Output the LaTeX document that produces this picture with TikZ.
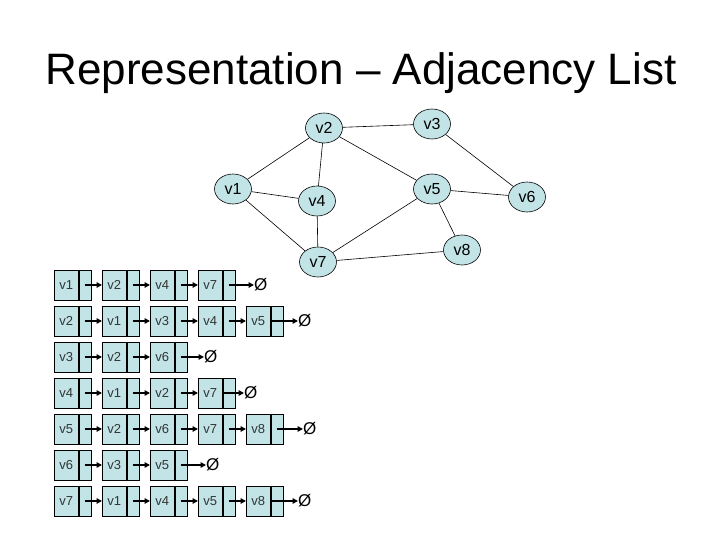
\documentclass[tikz,border=0pt]{standalone}
\usepackage{fontspec}
\setmainfont{Liberation Sans}
\usetikzlibrary{shapes.geometric,arrows.meta}
\definecolor{cellfill}{RGB}{194,228,230}
\tikzset{
  vert/.style={ellipse,draw=black,line width=0.6pt,fill=cellfill,minimum width=37pt,minimum height=30pt,inner sep=0pt,font=\fontsize{16}{16}\selectfont},
  edge/.style={draw=black,line width=0.6pt},
  lpart/.style={rectangle,draw=black,line width=0.6pt,fill=cellfill,minimum width=24pt,minimum height=30pt,inner sep=0pt,anchor=west,font=\fontsize{13}{13}\selectfont,text=black!80},
  rpart/.style={rectangle,draw=black,line width=0.6pt,fill=cellfill,minimum width=12pt,minimum height=30pt,inner sep=0pt,anchor=west},
  link/.style={draw=black,line width=1.5pt,-{Triangle[length=5.5pt,width=5.5pt]}},
  nullsym/.style={inner sep=0pt,anchor=west,font=\fontsize{17}{17}\selectfont}
}
\newcommand{\cellpair}[4]{% name, x, y, label
  \node[lpart] (#1l) at (#2,#3) {#4};
  \node[rpart] (#1r) at (#1l.east) {};
}
\begin{document}
\begin{tikzpicture}[x=1pt,y=-1pt]
\useasboundingbox (0,0) rectangle (720,540);
\node[anchor=base,font=\fontsize{44}{44}\selectfont] (title) at (361,85) {Representation – Adjacency List};

% graph
\node[vert] (v1) at (233,189) {v1};
\node[vert] (v2) at (324,128) {v2};
\node[vert] (v3) at (432,124) {v3};
\node[vert] (v4) at (317,201) {v4};
\node[vert] (v5) at (432,189) {v5};
\node[vert] (v6) at (527,197) {v6};
\node[vert] (v7) at (318,262) {v7};
\node[vert] (v8) at (462,250) {v8};
\draw[edge] (v1) -- (v2);
\draw[edge] (v1) -- (v4);
\draw[edge] (v1) -- (v7);
\draw[edge] (v2) -- (v3);
\draw[edge] (v2) -- (v4);
\draw[edge] (v2) -- (v5);
\draw[edge] (v3) -- (v6);
\draw[edge] (v4) -- (v7);
\draw[edge] (v5) -- (v6);
\draw[edge] (v5) -- (v7);
\draw[edge] (v5) -- (v8);
\draw[edge] (v7) -- (v8);

% adjacency lists
\def\rowA{285}\def\rowB{321}\def\rowC{357}\def\rowD{393}\def\rowE{429}\def\rowF{465}\def\rowG{501}
% row 1
\cellpair{a1}{54}{\rowA}{v1}\cellpair{a2}{102}{\rowA}{v2}\cellpair{a3}{150}{\rowA}{v4}\cellpair{a4}{198}{\rowA}{v7}
\node[nullsym] (na) at (254,\rowA) {Ø};
\draw[link] (a1r.center) -- (a2l.west);
\draw[link] (a2r.center) -- (a3l.west);
\draw[link] (a3r.center) -- (a4l.west);
\draw[link] (a4r.center) -- (na.west |- a4r.center);
% row 2
\cellpair{b1}{54}{\rowB}{v2}\cellpair{b2}{102}{\rowB}{v1}\cellpair{b3}{150}{\rowB}{v3}\cellpair{b4}{198}{\rowB}{v4}\cellpair{b5}{246}{\rowB}{v5}
\node[nullsym] (nb) at (298,\rowB) {Ø};
\draw[link] (b1r.center) -- (b2l.west);
\draw[link] (b2r.center) -- (b3l.west);
\draw[link] (b3r.center) -- (b4l.west);
\draw[link] (b4r.center) -- (b5l.west);
\draw[link] (b5l.east) -- (nb.west |- b5r.center);
% row 3
\cellpair{c1}{54}{\rowC}{v3}\cellpair{c2}{102}{\rowC}{v2}\cellpair{c3}{150}{\rowC}{v6}
\node[nullsym] (nc) at (204,\rowC) {Ø};
\draw[link] (c1r.center) -- (c2l.west);
\draw[link] (c2r.center) -- (c3l.west);
\draw[link] (c3r.center) -- (nc.west |- c3r.center);
% row 4
\cellpair{d1}{54}{\rowD}{v4}\cellpair{d2}{102}{\rowD}{v1}\cellpair{d3}{150}{\rowD}{v2}\cellpair{d4}{198}{\rowD}{v7}
\node[nullsym] (nd) at (244,\rowD) {Ø};
\draw[link] (d1r.center) -- (d2l.west);
\draw[link] (d2r.center) -- (d3l.west);
\draw[link] (d3r.center) -- (d4l.west);
\draw[link] (d4l.east) -- (nd.west |- d4r.center);
% row 5
\cellpair{e1}{54}{\rowE}{v5}\cellpair{e2}{102}{\rowE}{v2}\cellpair{e3}{150}{\rowE}{v6}\cellpair{e4}{198}{\rowE}{v7}\cellpair{e5}{246}{\rowE}{v8}
\node[nullsym] (ne) at (303,\rowE) {Ø};
\draw[link] (e1r.center) -- (e2l.west);
\draw[link] (e2r.center) -- (e3l.west);
\draw[link] (e3r.center) -- (e4l.west);
\draw[link] (e4r.center) -- (e5l.west);
\draw[link] (e5r.center) -- (ne.west |- e5r.center);
% row 6
\cellpair{f1}{54}{\rowF}{v6}\cellpair{f2}{102}{\rowF}{v3}\cellpair{f3}{150}{\rowF}{v5}
\node[nullsym] (nf) at (206,\rowF) {Ø};
\draw[link] (f1r.center) -- (f2l.west);
\draw[link] (f2r.center) -- (f3l.west);
\draw[link] (f3r.center) -- (nf.west |- f3r.center);
% row 7
\cellpair{g1}{54}{\rowG}{v7}\cellpair{g2}{102}{\rowG}{v1}\cellpair{g3}{150}{\rowG}{v4}\cellpair{g4}{198}{\rowG}{v5}\cellpair{g5}{246}{\rowG}{v8}
\node[nullsym] (ng) at (298,\rowG) {Ø};
\draw[link] (g1r.center) -- (g2l.west);
\draw[link] (g2r.center) -- (g3l.west);
\draw[link] (g3r.center) -- (g4l.west);
\draw[link] (g4r.center) -- (g5l.west);
\draw[link] (g5l.east) -- (ng.west |- g5r.center);
\end{tikzpicture}
\end{document}
